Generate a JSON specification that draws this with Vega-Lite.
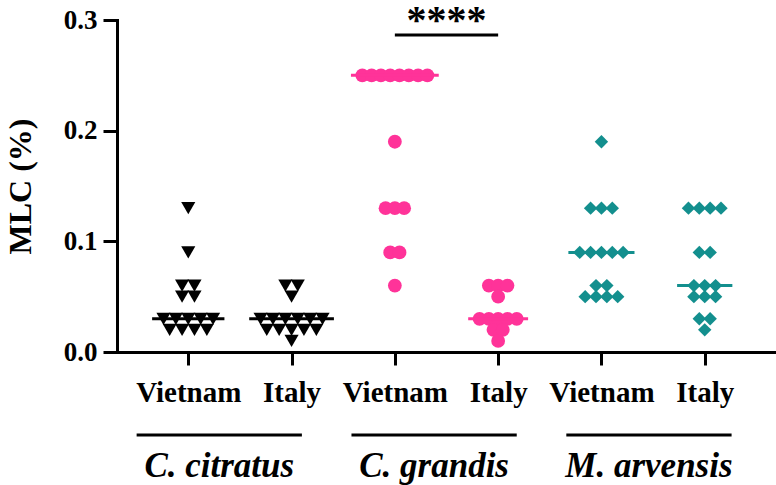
{
  "$schema": "https://vega.github.io/schema/vega-lite/v6.json",
  "width": 659,
  "height": 332,
  "autosize": "none",
  "padding": {"left": 117, "top": 20, "right": 0, "bottom": 133},
  "config": {
    "view": {"stroke": null},
    "font": "Liberation Serif",
    "axis": {
      "grid": false,
      "domainColor": "black",
      "tickColor": "black",
      "labelColor": "black",
      "titleColor": "black",
      "domainWidth": 3,
      "tickWidth": 3,
      "domainCap": "square",
      "labelFont": "Liberation Serif",
      "titleFont": "Liberation Serif",
      "labelFontWeight": "bold",
      "titleFontWeight": "bold",
      "labelOverlap": false,
      "labelFlush": false
    }
  },
  "datasets": {
    "mlc": [
      {"species": "C. citratus", "origin": "Vietnam", "mlc": 0.13},
      {"species": "C. citratus", "origin": "Vietnam", "mlc": 0.09},
      {"species": "C. citratus", "origin": "Vietnam", "mlc": 0.06},
      {"species": "C. citratus", "origin": "Vietnam", "mlc": 0.06},
      {"species": "C. citratus", "origin": "Vietnam", "mlc": 0.05},
      {"species": "C. citratus", "origin": "Vietnam", "mlc": 0.05},
      {"species": "C. citratus", "origin": "Vietnam", "mlc": 0.03},
      {"species": "C. citratus", "origin": "Vietnam", "mlc": 0.03},
      {"species": "C. citratus", "origin": "Vietnam", "mlc": 0.03},
      {"species": "C. citratus", "origin": "Vietnam", "mlc": 0.03},
      {"species": "C. citratus", "origin": "Vietnam", "mlc": 0.03},
      {"species": "C. citratus", "origin": "Vietnam", "mlc": 0.02},
      {"species": "C. citratus", "origin": "Vietnam", "mlc": 0.02},
      {"species": "C. citratus", "origin": "Vietnam", "mlc": 0.02},
      {"species": "C. citratus", "origin": "Vietnam", "mlc": 0.02},
      {"species": "C. citratus", "origin": "Italy", "mlc": 0.06},
      {"species": "C. citratus", "origin": "Italy", "mlc": 0.06},
      {"species": "C. citratus", "origin": "Italy", "mlc": 0.05},
      {"species": "C. citratus", "origin": "Italy", "mlc": 0.03},
      {"species": "C. citratus", "origin": "Italy", "mlc": 0.03},
      {"species": "C. citratus", "origin": "Italy", "mlc": 0.03},
      {"species": "C. citratus", "origin": "Italy", "mlc": 0.03},
      {"species": "C. citratus", "origin": "Italy", "mlc": 0.03},
      {"species": "C. citratus", "origin": "Italy", "mlc": 0.03},
      {"species": "C. citratus", "origin": "Italy", "mlc": 0.02},
      {"species": "C. citratus", "origin": "Italy", "mlc": 0.02},
      {"species": "C. citratus", "origin": "Italy", "mlc": 0.02},
      {"species": "C. citratus", "origin": "Italy", "mlc": 0.02},
      {"species": "C. citratus", "origin": "Italy", "mlc": 0.02},
      {"species": "C. citratus", "origin": "Italy", "mlc": 0.01},
      {"species": "C. grandis", "origin": "Vietnam", "mlc": 0.25},
      {"species": "C. grandis", "origin": "Vietnam", "mlc": 0.25},
      {"species": "C. grandis", "origin": "Vietnam", "mlc": 0.25},
      {"species": "C. grandis", "origin": "Vietnam", "mlc": 0.25},
      {"species": "C. grandis", "origin": "Vietnam", "mlc": 0.25},
      {"species": "C. grandis", "origin": "Vietnam", "mlc": 0.25},
      {"species": "C. grandis", "origin": "Vietnam", "mlc": 0.25},
      {"species": "C. grandis", "origin": "Vietnam", "mlc": 0.25},
      {"species": "C. grandis", "origin": "Vietnam", "mlc": 0.19},
      {"species": "C. grandis", "origin": "Vietnam", "mlc": 0.13},
      {"species": "C. grandis", "origin": "Vietnam", "mlc": 0.13},
      {"species": "C. grandis", "origin": "Vietnam", "mlc": 0.13},
      {"species": "C. grandis", "origin": "Vietnam", "mlc": 0.09},
      {"species": "C. grandis", "origin": "Vietnam", "mlc": 0.09},
      {"species": "C. grandis", "origin": "Vietnam", "mlc": 0.06},
      {"species": "C. grandis", "origin": "Italy", "mlc": 0.06},
      {"species": "C. grandis", "origin": "Italy", "mlc": 0.06},
      {"species": "C. grandis", "origin": "Italy", "mlc": 0.06},
      {"species": "C. grandis", "origin": "Italy", "mlc": 0.05},
      {"species": "C. grandis", "origin": "Italy", "mlc": 0.03},
      {"species": "C. grandis", "origin": "Italy", "mlc": 0.03},
      {"species": "C. grandis", "origin": "Italy", "mlc": 0.03},
      {"species": "C. grandis", "origin": "Italy", "mlc": 0.03},
      {"species": "C. grandis", "origin": "Italy", "mlc": 0.03},
      {"species": "C. grandis", "origin": "Italy", "mlc": 0.02},
      {"species": "C. grandis", "origin": "Italy", "mlc": 0.02},
      {"species": "C. grandis", "origin": "Italy", "mlc": 0.01},
      {"species": "M. arvensis", "origin": "Vietnam", "mlc": 0.19},
      {"species": "M. arvensis", "origin": "Vietnam", "mlc": 0.13},
      {"species": "M. arvensis", "origin": "Vietnam", "mlc": 0.13},
      {"species": "M. arvensis", "origin": "Vietnam", "mlc": 0.13},
      {"species": "M. arvensis", "origin": "Vietnam", "mlc": 0.09},
      {"species": "M. arvensis", "origin": "Vietnam", "mlc": 0.09},
      {"species": "M. arvensis", "origin": "Vietnam", "mlc": 0.09},
      {"species": "M. arvensis", "origin": "Vietnam", "mlc": 0.09},
      {"species": "M. arvensis", "origin": "Vietnam", "mlc": 0.09},
      {"species": "M. arvensis", "origin": "Vietnam", "mlc": 0.06},
      {"species": "M. arvensis", "origin": "Vietnam", "mlc": 0.06},
      {"species": "M. arvensis", "origin": "Vietnam", "mlc": 0.05},
      {"species": "M. arvensis", "origin": "Vietnam", "mlc": 0.05},
      {"species": "M. arvensis", "origin": "Vietnam", "mlc": 0.05},
      {"species": "M. arvensis", "origin": "Vietnam", "mlc": 0.05},
      {"species": "M. arvensis", "origin": "Italy", "mlc": 0.13},
      {"species": "M. arvensis", "origin": "Italy", "mlc": 0.13},
      {"species": "M. arvensis", "origin": "Italy", "mlc": 0.13},
      {"species": "M. arvensis", "origin": "Italy", "mlc": 0.13},
      {"species": "M. arvensis", "origin": "Italy", "mlc": 0.09},
      {"species": "M. arvensis", "origin": "Italy", "mlc": 0.09},
      {"species": "M. arvensis", "origin": "Italy", "mlc": 0.06},
      {"species": "M. arvensis", "origin": "Italy", "mlc": 0.06},
      {"species": "M. arvensis", "origin": "Italy", "mlc": 0.06},
      {"species": "M. arvensis", "origin": "Italy", "mlc": 0.05},
      {"species": "M. arvensis", "origin": "Italy", "mlc": 0.05},
      {"species": "M. arvensis", "origin": "Italy", "mlc": 0.05},
      {"species": "M. arvensis", "origin": "Italy", "mlc": 0.03},
      {"species": "M. arvensis", "origin": "Italy", "mlc": 0.03},
      {"species": "M. arvensis", "origin": "Italy", "mlc": 0.02}
    ],
    "groups": [
      {"species": "C. citratus"},
      {"species": "C. grandis"},
      {"species": "M. arvensis"}
    ],
    "sig": [
      {"label": "****"}
    ]
  },
  "layer": [
    {
      "data": {"name": "mlc"},
      "transform": [
        {"calculate": "indexof(['C. citratus', 'C. grandis', 'M. arvensis'], datum.species) * 2 + (datum.origin === 'Vietnam' ? 1 : 2)", "as": "gi"},
        {"calculate": "datum.species === 'C. citratus' ? 0.12 : datum.species === 'C. grandis' ? 0.09 : 0.105", "as": "sp"},
        {"window": [{"op": "row_number", "as": "r"}], "groupby": ["gi", "mlc"]},
        {"joinaggregate": [{"op": "count", "as": "n"}], "groupby": ["gi", "mlc"]},
        {"calculate": "datum.gi + (datum.r - (datum.n + 1) / 2) * datum.sp", "as": "xp"}
      ],
      "mark": {"type": "point", "filled": true, "opacity": 1},
      "encoding": {
        "x": {
          "field": "xp",
          "type": "quantitative",
          "scale": {"domain": [0.31, 6.69], "nice": false, "zero": false},
          "axis": {
            "values": [1, 2, 3, 4, 5, 6],
            "labelExpr": "datum.value % 2 === 1 ? 'Vietnam' : 'Italy'",
            "title": null,
            "tickSize": 13,
            "labelFontSize": 29,
            "labelPadding": 13
          }
        },
        "y": {
          "field": "mlc",
          "type": "quantitative",
          "scale": {"domain": [0, 0.3], "nice": false},
          "axis": {
            "values": [0, 0.1, 0.2, 0.3],
            "format": ".1f",
            "title": "MLC (%)",
            "tickSize": 14,
            "labelFontSize": 27,
            "labelPadding": 6,
            "titleFontSize": 32,
            "titleX": -97,
            "titleY": 166,
            "titleAngle": -90,
            "titleAlign": "center",
            "titleBaseline": "middle"
          }
        },
        "color": {
          "field": "species",
          "type": "nominal",
          "scale": {"domain": ["C. citratus", "C. grandis", "M. arvensis"], "range": ["#000000", "#FF3399", "#138F8E"]},
          "legend": null
        },
        "shape": {
          "field": "species",
          "type": "nominal",
          "scale": {"domain": ["C. citratus", "C. grandis", "M. arvensis"], "range": ["triangle-down", "circle", "diamond"]},
          "legend": null
        },
        "size": {
          "field": "species",
          "type": "ordinal",
          "scale": {"domain": ["C. citratus", "C. grandis", "M. arvensis"], "range": [200, 180, 150]},
          "legend": null
        }
      }
    },
    {
      "data": {"name": "mlc"},
      "transform": [
        {"calculate": "indexof(['C. citratus', 'C. grandis', 'M. arvensis'], datum.species) * 2 + (datum.origin === 'Vietnam' ? 1 : 2)", "as": "gi"},
        {"joinaggregate": [{"op": "count", "as": "n"}], "groupby": ["gi", "mlc"]},
        {"aggregate": [{"op": "median", "field": "mlc", "as": "med"}, {"op": "max", "field": "n", "as": "nmax"}], "groupby": ["gi", "species"]},
        {"calculate": "datum.species === 'C. citratus' ? 0.12 : datum.species === 'C. grandis' ? 0.09 : 0.105", "as": "sp"},
        {"calculate": "(datum.nmax - 1) * datum.sp / 2 + 0.11", "as": "hw"},
        {"calculate": "datum.gi - datum.hw", "as": "x1"},
        {"calculate": "datum.gi + datum.hw", "as": "x2"}
      ],
      "mark": {"type": "rule", "strokeWidth": 3},
      "encoding": {
        "x": {"field": "x1", "type": "quantitative"},
        "x2": {"field": "x2"},
        "y": {"field": "med", "type": "quantitative"},
        "color": {"field": "species", "type": "nominal", "legend": null}
      }
    },
    {
      "data": {"name": "sig"},
      "mark": {"type": "rule", "strokeWidth": 3, "color": "black"},
      "encoding": {
        "x": {"datum": 3},
        "x2": {"datum": 4},
        "y": {"datum": 0.2864}
      }
    },
    {
      "data": {"name": "sig"},
      "mark": {"type": "text", "fontSize": 40, "fontWeight": "bold", "baseline": "alphabetic", "align": "center", "color": "black"},
      "encoding": {
        "x": {"datum": 3.5},
        "y": {"datum": 0.2885},
        "text": {"field": "label"}
      }
    },
    {
      "data": {"name": "groups"},
      "transform": [
        {"calculate": "1.3 + indexof(['C. citratus', 'C. grandis', 'M. arvensis'], datum.species) * 2.08", "as": "mid"},
        {"calculate": "datum.mid - 0.8", "as": "x1"},
        {"calculate": "datum.mid + 0.8", "as": "x2"}
      ],
      "mark": {"type": "rule", "strokeWidth": 3, "color": "black"},
      "encoding": {
        "x": {"field": "x1", "type": "quantitative"},
        "x2": {"field": "x2"},
        "y": {"datum": -0.075}
      }
    },
    {
      "data": {"name": "groups"},
      "transform": [
        {"calculate": "1.3 + indexof(['C. citratus', 'C. grandis', 'M. arvensis'], datum.species) * 2.08", "as": "mid"}
      ],
      "mark": {"type": "text", "fontSize": 35, "fontWeight": "bold", "fontStyle": "italic", "baseline": "alphabetic", "align": "center", "color": "black"},
      "encoding": {
        "x": {"field": "mid", "type": "quantitative"},
        "y": {"datum": -0.1129},
        "text": {"field": "species"}
      }
    }
  ]
}
